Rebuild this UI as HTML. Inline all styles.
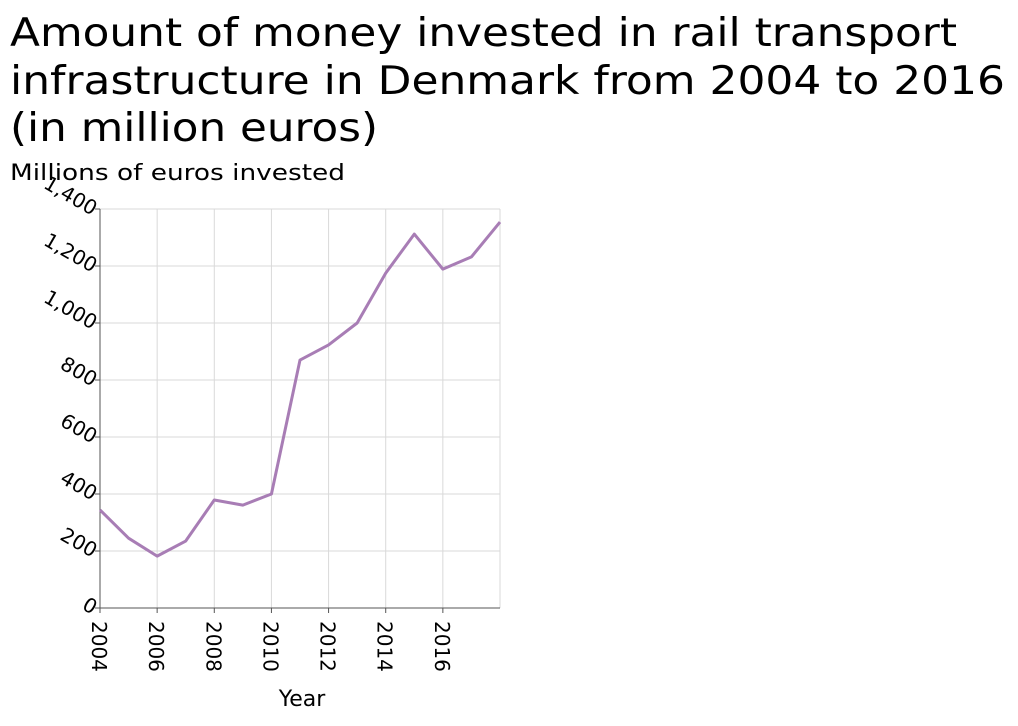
<!DOCTYPE html>
<html><head><meta charset="utf-8"><style>
body{margin:0;background:#fff;width:1018px;height:722px;overflow:hidden;font-family:"DejaVu Sans",sans-serif}
</style></head><body>
<svg width="1018" height="722" font-family="DejaVu Sans, sans-serif">
<text x="10" y="46" font-size="39" textLength="947" lengthAdjust="spacingAndGlyphs" fill="#000">Amount of money invested in rail transport</text>
<text x="10" y="94" font-size="39" textLength="995" lengthAdjust="spacingAndGlyphs" fill="#000">infrastructure in Denmark from 2004 to 2016</text>
<text x="10" y="141" font-size="39" textLength="368" lengthAdjust="spacingAndGlyphs" fill="#000">(in million euros)</text>
<text x="10" y="180" font-size="22" textLength="335" lengthAdjust="spacingAndGlyphs" fill="#000">Millions of euros invested</text>
<text x="302" y="706" font-size="22" text-anchor="middle" fill="#000">Year</text>
<g id="grid"></g><g id="axes"></g><g id="series"></g>
</svg>
<script>
const years=[2004,2005,2006,2007,2008,2009,2010,2011,2012,2013,2014,2015,2016,2017,2018];
const values=[344,245,182,235,379,361,400,870,923,1000,1175,1312,1189,1232,1354];
const yTicks=[0,200,400,600,800,1000,1200,1400];
const yTickLabels=["0","200","400","600","800","1,000","1,200","1,400"];
const xTicks=[2004,2006,2008,2010,2012,2014,2016];
const ns="http://www.w3.org/2000/svg";
const X0=100,X1=500,Y0=608,Y1=209;
const xs=v=>X0+(v-2004)/(2018-2004)*(X1-X0);
const ys=v=>Y0-v/1400*(Y0-Y1);
function mk(t,a,p){const e=document.createElementNS(ns,t);for(const k in a)e.setAttribute(k,a[k]);p.appendChild(e);return e;}
const grid=document.getElementById('grid'),axes=document.getElementById('axes'),ser=document.getElementById('series');
yTicks.forEach((v,i)=>{
 const l=mk('line',{x1:X0,x2:X1,y1:ys(v),y2:ys(v),stroke:'#d9d9d9','stroke-width':1},grid);
 
 
 const tk=mk('line',{x1:X0-5,x2:X0,y1:ys(v),y2:ys(v),stroke:'#555'},axes);
 
 
 const t=mk('text',{x:X0-4,y:ys(v)+8,'font-size':20,'text-anchor':'end',transform:`rotate(30 ${X0-4} ${ys(v)})`},axes);
 t.textContent=yTickLabels[i];
 
 
});
xTicks.forEach(v=>{
 const l=mk('line',{x1:xs(v),x2:xs(v),y1:Y1,y2:Y0,stroke:'#d9d9d9'},grid);
 
 
 const tk=mk('line',{x1:xs(v),x2:xs(v),y1:Y0,y2:Y0+5,stroke:'#555'},axes);
 
 
 const t=mk('text',{x:xs(v)-8,y:Y0+13,'font-size':20,transform:`rotate(90 ${xs(v)-8} ${Y0+13})`},axes);
 t.textContent=v;
 
 
});
mk('line',{x1:X1,x2:X1,y1:Y1,y2:Y0,stroke:'#d9d9d9'},grid);
const ax=mk('line',{x1:X0,x2:X0,y1:Y1,y2:Y0,stroke:'#555'},axes);


const bx=mk('line',{x1:X0,x2:X1,y1:Y0,y2:Y0,stroke:'#555'},axes);


const p=mk('polyline',{points:years.map((y,i)=>xs(y)+','+ys(values[i])).join(' '),fill:'none',stroke:'#a87db5','stroke-width':3,'stroke-linejoin':'round'},ser);


</script>
</body></html>
